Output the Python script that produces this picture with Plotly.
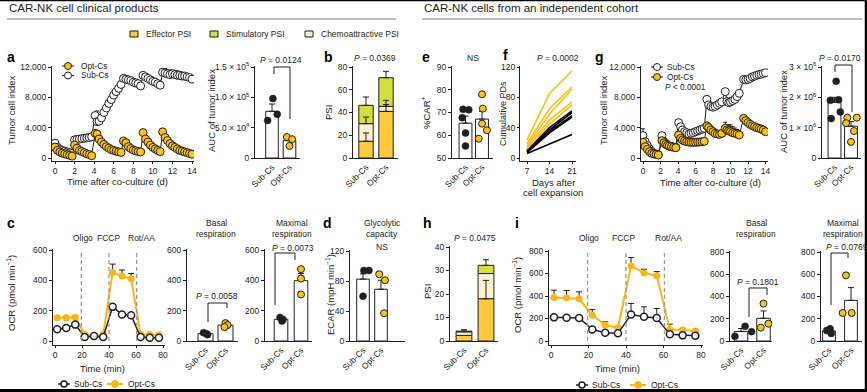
import plotly.graph_objects as go

W, H = 867, 392
FONT = "Liberation Sans, Arial, sans-serif"
INK = "#231f20"
GOLD = "#FFC20E"
GOLD_LINE = "#FDB515"
EFF_C = "#FEC93B"
STIM_C = "#D4DE3E"
CHEMO_C = "#FCF2CF"

groups = ["Sub-Cs", "Opt-Cs"]

# ---------------- panel a ----------------
a_time = [0, 0.25, 0.5, 0.75, 1, 1.25, 1.5, 1.75,
          2, 2.25, 2.5, 2.75, 3, 3.25, 3.5, 3.75,
          4.1, 4.3, 4.5, 4.75, 5, 5.25, 5.5, 5.75, 6, 6.25, 6.5, 6.75,
          7, 7.25, 7.5, 7.75, 8, 8.25, 8.5, 8.75,
          9, 9.25, 9.5, 9.75, 10, 10.25, 10.5, 10.75,
          11, 11.25, 11.5, 11.75, 12, 12.25, 12.5, 12.75, 13, 13.25, 13.5, 13.75, 14]
a_sub = [1950, 1400, 1150, 1000, 900, 800, 700, 620,
         2400, 2450, 2500, 2550, 2600, 2650, 2700, 2800,
         5600, 4800, 4850, 5300, 6000, 6600, 7200, 7700, 8300, 8750, 9200, 9700,
         10500, 10400, 10300, 10200, 10000, 9900, 9800, 9500,
         10900, 10700, 10500, 10300, 10100, 10000, 9800, 9600,
         11300, 11200, 11100, 11000, 11100, 11000, 10900, 10900, 10800, 10800, 10700, 10600, 10400]
a_opt = [1450, 1000, 800, 650, 550, 450, 350, 250,
         1700, 1300, 1000, 850, 700, 550, 450, 300,
         3250, 3150, 2500, 2100, 1800, 1500, 1300, 1100, 1000, 900, 800, 750,
         2250, 2000, 1500, 1250, 1050, 950, 850, 800,
         3350, 2500, 2100, 1700, 1400, 1200, 1000, 850,
         3450, 2700, 2300, 1900, 1600, 1400, 1200, 1000, 900, 800, 700, 600, 500]
a_sub_err = [None] * 16 + [None, 1400] + [None] * 26 + [500, 600, 500, 600, 500, 500, 600, 500, 500, 400, 400, None, None]
a_auc_sub = [98000, 72000, 62000]
a_auc_opt = [34600, 31000, 19800]
a_auc_mean = [77000, 28500]
a_auc_err = [12000, 4500]

# ---------------- panel b ----------------
b_effector = [14.7, 41.0]
b_chemo = [15.5, 4.4]
b_stim = [16.1, 25.2]
b_effector_err = [7.3, 6.0]
b_chemo_err = [5.8, 5.3]
b_stim_err = [7.3, 5.6]

# ---------------- panel e ----------------
e_sub = [71.4, 71.2, 67.7, 61.0, 55.3]
e_opt = [78.0, 71.7, 65.1, 62.2, 58.5]
e_mean = [65.3, 67.1]
e_err = [3.1, 3.4]

# ---------------- panel f ----------------
f_days = [7, 14, 21]
f_opt = [[24, 85, 115], [19, 65, 94], [16, 58, 91], [14, 50, 74], [12, 45, 70]]
f_sub = [[10, 40, 62], [9, 37, 60], [8, 35, 56], [7, 33, 54], [6, 19, 31]]

# ---------------- panel g ----------------
g_time = [0, 0.25, 0.5, 0.75, 1, 1.25, 1.5, 1.75,
          2.17, 2.4, 2.6, 2.8, 3, 3.25, 3.5, 3.75,
          4.07, 4.3, 4.5, 4.75, 5, 5.25, 5.5, 5.75, 6, 6.25, 6.5, 6.75, 7,
          7.3, 7.5, 7.75, 8, 8.25, 8.5, 8.75, 9,
          9.4, 9.6, 9.8, 10, 10.25, 10.5, 10.75, 11,
          11.5, 11.75, 12, 12.25, 12.5, 12.75, 13, 13.25, 13.5, 13.75, 14]
g_sub = [2950, 2150, 1650, 1200, 850, 620, 480, 420,
         2950, 2150, 1930, 1710, 1580, 1500, 1450, 1400,
         4660, 4130, 3690, 3470, 3340, 3160, 3250, 3340, 3470, 3580, 3690, 3800, 3910,
         7740, 7000, 6800, 6700, 6800, 7000, 7200, 7400,
         8750, 7450, 7300, 7400, 7560, 7740, 8090, 8530,
         10370, 10300, 10370, 10500, 10700, 10800, 10900, 11000, 11050, 11150, 11250]
g_opt = [2070, 1490, 1140, 835, 615, 530, 480, 395,
         2290, 2020, 1800, 1670, 1580, 1490, 1420, 1360,
         3030, 2590, 2370, 2240, 2150, 2100, 2070, 2070, 2070, 2100, 2100, 2150, 2200,
         4220, 4000, 3690, 3470, 3250, 3160, 3120, 3250,
         3910, 3690, 3580, 3470, 3340, 3250, 3160, 3030,
         5230, 4920, 4660, 4440, 4260, 4130, 4000, 3910, 3820, 3690, 3470]
g_sub_err = [900] + [None] * 7 + [300] + [None] * 7 + [400] + [None] * 20 + [400] + [None] * 18
g_opt_err = [None] * 29 + [500] + [None] * 7 + [800, 700, 800, 900, 800, 700, 600, None] + [None] * 11
g_auc_sub = [2.53e6, 1.9e6, 1.92e6, 1.52e6, 1.3e6]
g_auc_opt = [1.33e6, 1.33e6, 1.15e6, 0.89e6, 0.53e6]
g_auc_mean = [1.83e6, 1.05e6]
g_auc_err = [0.17e6, 0.15e6]

# ---------------- panels c / i (Seahorse) ----------------
sea_time = [1.6, 8.3, 15.0, 22.0, 28.9, 35.7, 42.7, 49.6, 56.4, 63.4, 70.2, 77.0]
inj_time = [19.5, 40, 60.5]
inj_labels = ["Oligo", "FCCP", "Rot/AA"]
c_sub = [77, 86, 108, 26, 33, 26, 225, 174, 170, 26, 22, 22]
c_opt = [154, 154, 157, 44, 26, 44, 452, 428, 410, 44, 43, 42]
c_opt_err = [8, 8, 10, 8, None, 6, 55, 40, 35, None, None, None]
c_bas_sub = [55, 48, 42]
c_bas_opt = [118, 105, 92]
c_bas_mean = [48, 105]
c_bas_err = [4, 8]
c_max_sub = [155, 142, 132]
c_max_opt = [474, 412, 307]
c_max_mean = [143, 398]
c_max_err = [7, 48]

d_sub = [94, 94, 59.6]
d_opt = [89, 81, 37]
d_mean = [82.5, 69]
d_err = [7, 12]

h_effector = [2.4, 18.0]
h_chemo = [1.5, 10.7]
h_stim = [0.3, 3.5]
h_effector_err = [None, 7.8]
h_stim_err = [0.6, 2.4]

i_sub = [210, 207, 204, 103, 74, 68, 236, 215, 204, 59, 50, 47]
i_opt = [387, 384, 375, 230, 142, 118, 667, 605, 579, 103, 97, 89]
i_sub_err = [8, 8, 8, 8, 6, 6, 98, 89, 85, 20, 10, 10]
i_opt_err = [65, 65, 62, 50, 29, 10, 74, 33, 38, 47, 15, 12]
i_bas_sub = [132, 84, 42]
i_bas_opt = [336, 156, 120]
i_bas_mean = [86, 204]
i_bas_err = [26, 66]
i_max_sub = [110, 95, 68]
i_max_opt = [590, 252, 252]
i_max_mean = [91, 365]
i_max_err = [12, 115]

# ---------------- helpers ----------------
fig = go.Figure()
layout = {}
annotations = []
shapes = []


def xdom(pa, va, pb, vb, lo, hi):
    s = (vb - va) / (pb - pa)
    return dict(domain=[lo / W, hi / W], range=[va + (lo - pa) * s, va + (hi - pa) * s])


def ydom(pa, va, pb, vb, top, bottom):
    s = (vb - va) / (pb - pa)
    return dict(domain=[1 - bottom / H, 1 - top / H], range=[va + (bottom - pa) * s, va + (top - pa) * s])


def base_axis():
    return dict(showline=True, linecolor=INK, linewidth=1, ticks="outside", ticklen=3, tickwidth=1,
                tickcolor=INK, tickfont=dict(size=8.5, family=FONT, color=INK), showgrid=False,
                zeroline=False, fixedrange=True, automargin=False)


def add_axes(n, xs, ys, xkw=None, ykw=None):
    sfx = "" if n == 1 else str(n)
    xa = base_axis(); xa.update(xs); xa["anchor"] = "y" + sfx
    ya = base_axis(); ya.update(ys); ya["anchor"] = "x" + sfx
    if xkw: xa.update(xkw)
    if ykw: ya.update(ykw)
    layout["xaxis" + sfx] = xa
    layout["yaxis" + sfx] = ya
    return "x" + sfx, "y" + sfx


def cat_x():
    return dict(tickvals=[0, 1], ticktext=groups, tickangle=-45, ticks="", ticklen=0)


def T(x, y, s, size=8.5, xa="center", ya="middle", angle=0, bold=False, color=INK):
    if bold:
        s = "<b>" + s + "</b>"
    annotations.append(dict(x=x / W, y=1 - y / H, xref="paper", yref="paper", text=s, showarrow=False,
                            xanchor=xa, yanchor=ya, textangle=angle,
                            font=dict(size=size, family=FONT, color=color)))


def L(x0, y0, x1, y1, color=INK, width=1, dash=None):
    ln = dict(color=color, width=width)
    if dash:
        ln["dash"] = dash
    shapes.append(dict(type="line", xref="paper", yref="paper", x0=x0 / W, y0=1 - y0 / H,
                       x1=x1 / W, y1=1 - y1 / H, line=ln))


def CIRC(x, y, r, fill, line=INK, lw=1):
    shapes.append(dict(type="circle", xref="paper", yref="paper", x0=(x - r) / W, x1=(x + r) / W,
                       y0=1 - (y + r) / H, y1=1 - (y - r) / H, fillcolor=fill, line=dict(color=line, width=lw)))


def RECT(x0, y0, x1, y1, fill, line=INK):
    shapes.append(dict(type="rect", xref="paper", yref="paper", x0=x0 / W, x1=x1 / W,
                       y0=1 - y1 / H, y1=1 - y0 / H, fillcolor=fill, line=dict(color=line, width=1)))


def BRACKET(x1, x2, ytop, yb1, yb2):
    p = "M {:.5f},{:.5f} L {:.5f},{:.5f} L {:.5f},{:.5f} L {:.5f},{:.5f}".format(
        x1 / W, 1 - yb1 / H, x1 / W, 1 - ytop / H, x2 / W, 1 - ytop / H, x2 / W, 1 - yb2 / H)
    shapes.append(dict(type="path", xref="paper", yref="paper", path=p, line=dict(color=INK, width=1)))


def err_dict(arr, w=3):
    return dict(type="data", array=arr, arrayminus=[0] * len(arr), symmetric=False,
                color=INK, thickness=1, width=w)


def bar_panel(xr, yr, means, errs, sub_pts, opt_pts, sub_off, opt_off, width, msize=7):
    fig.add_trace(go.Bar(x=[0, 1], y=means, width=width, marker=dict(color="white", line=dict(color=INK, width=1)),
                         xaxis=xr, yaxis=yr, hoverinfo="skip"))
    fig.add_trace(go.Scatter(x=[0, 1], y=means, mode="markers", marker=dict(size=1, color="rgba(0,0,0,0)"),
                             error_y=err_dict(errs), xaxis=xr, yaxis=yr, hoverinfo="skip"))
    fig.add_trace(go.Scatter(x=[0 + o for o in sub_off], y=sub_pts, mode="markers",
                             marker=dict(size=msize, color=INK, line=dict(color=INK, width=0.5)),
                             xaxis=xr, yaxis=yr, hoverinfo="skip"))
    fig.add_trace(go.Scatter(x=[1 + o for o in opt_off], y=opt_pts, mode="markers",
                             marker=dict(size=msize, color=GOLD, line=dict(color=INK, width=1)),
                             xaxis=xr, yaxis=yr, hoverinfo="skip"))


def stacked_panel(xr, yr, eff, chemo, stim, errs, width):
    base2 = [a + b for a, b in zip(eff, chemo)]
    for y, base, col in [(eff, [0, 0], EFF_C), (chemo, eff, CHEMO_C), (stim, base2, STIM_C)]:
        fig.add_trace(go.Bar(x=[0, 1], y=y, base=base, width=width,
                             marker=dict(color=col, line=dict(color=INK, width=1)),
                             xaxis=xr, yaxis=yr, hoverinfo="skip"))
    tops = [eff, base2, [a + b for a, b in zip(base2, stim)]]
    for top, er in zip(tops, errs):
        if er is None:
            continue
        xs = [i for i in range(2) if er[i] is not None]
        fig.add_trace(go.Scatter(x=xs, y=[top[i] for i in xs], mode="markers",
                                 marker=dict(size=1, color="rgba(0,0,0,0)"),
                                 error_y=err_dict([er[i] for i in xs]), xaxis=xr, yaxis=yr, hoverinfo="skip"))


def tumor_lines(xr, yr, t, sub, opt, sub_err, opt_err):
    fig.add_trace(go.Scatter(x=t, y=sub, mode="lines+markers", line=dict(color=INK, width=1),
                             marker=dict(size=8, color="white", line=dict(color=INK, width=1)),
                             error_y=err_dict(sub_err, 2) if sub_err else None,
                             xaxis=xr, yaxis=yr, hoverinfo="skip"))
    fig.add_trace(go.Scatter(x=t, y=opt, mode="lines+markers", line=dict(color=INK, width=1),
                             marker=dict(size=8, color=GOLD, line=dict(color=INK, width=1)),
                             error_y=err_dict(opt_err, 2) if opt_err else None,
                             xaxis=xr, yaxis=yr, hoverinfo="skip"))


def ocr_lines(xr, yr, sub, opt, sub_err, opt_err):
    fig.add_trace(go.Scatter(x=sea_time, y=opt, mode="lines+markers", line=dict(color=GOLD_LINE, width=2),
                             marker=dict(size=7, color=GOLD_LINE),
                             error_y=err_dict(opt_err) if opt_err else None,
                             xaxis=xr, yaxis=yr, hoverinfo="skip"))
    fig.add_trace(go.Scatter(x=sea_time, y=sub, mode="lines+markers", line=dict(color=INK, width=1.5),
                             marker=dict(size=7, color="white", line=dict(color=INK, width=1.5)),
                             error_y=err_dict(sub_err) if sub_err else None,
                             xaxis=xr, yaxis=yr, hoverinfo="skip"))


# ---------------- panel a ----------------
xr, yr = add_axes(1, xdom(55, 0, 192, 14, 52, 194), ydom(158, 0, 67, 12000, 66, 161),
                  dict(tickvals=list(range(0, 15, 2)), ticklen=2),
                  dict(tickvals=[0, 4000, 8000, 12000], ticktext=["0", "4,000", "8,000", "12,000"]))
tumor_lines(xr, yr, a_time, a_sub, a_opt, a_sub_err, None)

xr, yr = add_axes(2, xdom(272, 0, 289.5, 1, 255, 300), ydom(158, 0, 67, 150000, 66, 158), cat_x(),
                  dict(tickvals=[0, 50000, 100000, 150000],
                       ticktext=["0", "5.0 × 10<sup>4</sup>", "1.0 × 10<sup>5</sup>", "1.5 × 10<sup>5</sup>"]))
bar_panel(xr, yr, a_auc_mean, a_auc_err, a_auc_sub, a_auc_opt, [0.05, 0.3, -0.25], [-0.15, 0.15, 0.0], 0.72)

# ---------------- panel b ----------------
xr, yr = add_axes(3, xdom(366, 0, 386, 1, 353, 398), ydom(158, 0, 67, 80, 66, 158), cat_x(),
                  dict(tickvals=[0, 20, 40, 60, 80]))
stacked_panel(xr, yr, b_effector, b_chemo, b_stim, [b_effector_err, b_chemo_err, b_stim_err], 0.72)

# ---------------- panel e ----------------
xr, yr = add_axes(4, xdom(465.5, 0, 482, 1, 452, 493), ydom(158, 50, 67, 90, 66, 158), cat_x(),
                  dict(tickvals=[50, 60, 70, 80, 90]))
bar_panel(xr, yr, e_mean, e_err, e_sub, e_opt, [-0.15, 0.2, -0.2, 0.0, 0.0], [0.0, 0.05, 0.0, 0.3, -0.2], 0.78)

# ---------------- panel f ----------------
xr, yr = add_axes(5, xdom(527, 7, 572, 21, 520, 576), ydom(158, 0, 67, 120, 66, 161),
                  dict(tickvals=f_days, ticklen=2), dict(tickvals=[0, 40, 80, 120], ticklen=2))
for ys in f_sub:
    fig.add_trace(go.Scatter(x=f_days, y=ys, mode="lines", line=dict(color="black", width=1.6),
                             xaxis=xr, yaxis=yr, hoverinfo="skip"))
for ys in f_opt:
    fig.add_trace(go.Scatter(x=f_days, y=ys, mode="lines", line=dict(color=GOLD, width=1.6),
                             xaxis=xr, yaxis=yr, hoverinfo="skip"))

# ---------------- panel g ----------------
xr, yr = add_axes(6, xdom(643, 0, 765.5, 14, 641, 768), ydom(158, 0, 67, 12000, 66, 161),
                  dict(tickvals=list(range(0, 15, 2)), ticklen=2),
                  dict(tickvals=[0, 4000, 8000, 12000], ticktext=["0", "4,000", "8,000", "12,000"]))
tumor_lines(xr, yr, g_time, g_sub, g_opt, g_sub_err, g_opt_err)

xr, yr = add_axes(7, xdom(834.5, 0, 851, 1, 822, 861), ydom(158, 0, 67, 3e6, 66, 158), cat_x(),
                  dict(tickvals=[0, 1e6, 2e6, 3e6],
                       ticktext=["0", "1 × 10<sup>6</sup>", "2 × 10<sup>6</sup>", "3 × 10<sup>6</sup>"]))
bar_panel(xr, yr, g_auc_mean, g_auc_err, g_auc_sub, g_auc_opt, [0.1, -0.25, 0.25, 0.35, -0.2],
          [-0.22, 0.35, -0.3, 0.18, 0.0], 0.78)

# ---------------- panel c ----------------
xr, yr = add_axes(8, xdom(55, 0, 163, 80, 53, 165), ydom(341, 0, 250, 600, 249, 345),
                  dict(tickvals=[0, 20, 40, 60, 80], ticklen=2), dict(tickvals=[0, 200, 400, 600]))
for tx in inj_time:
    shapes.append(dict(type="line", xref=xr, yref=yr, x0=tx, x1=tx, y0=0, y1=600,
                       line=dict(color="#9a9a9a", width=1.3, dash="4px,3px")))
ocr_lines(xr, yr, c_sub, c_opt, None, c_opt_err)
for tx, lab, dx in zip(inj_time, inj_labels, [2, -1, 5]):
    annotations.append(dict(x=tx, y=1 - 238 / H, xref=xr, yref="paper", text=lab, showarrow=False,
                            xshift=dx, font=dict(size=8.5, family=FONT, color=INK)))

xr, yr = add_axes(9, xdom(205.5, 0, 225.5, 1, 187, 238), ydom(341, 0, 250, 600, 249, 341), cat_x(),
                  dict(tickvals=[0, 200, 400, 600]))
bar_panel(xr, yr, c_bas_mean, c_bas_err, c_bas_sub, c_bas_opt, [-0.1, 0.05, 0.1], [0.0, 0.1, -0.05], 0.75)

xr, yr = add_axes(10, xdom(281, 0, 301, 1, 265, 312), ydom(341, 0, 250, 600, 249, 341), cat_x(),
                  dict(tickvals=[0, 200, 400, 600]))
bar_panel(xr, yr, c_max_mean, c_max_err, c_max_sub, c_max_opt, [-0.05, 0.1, 0.05], [0.0, 0.0, 0.0], 0.68)

# ---------------- panel d ----------------
xr, yr = add_axes(11, xdom(363, 0, 381, 1, 350, 405), ydom(341, 0, 251, 120, 250, 341), cat_x(),
                  dict(tickvals=[0, 40, 80, 120]))
bar_panel(xr, yr, d_mean, d_err, d_sub, d_opt, [0.05, 0.33, 0.0], [-0.1, 0.22, 0.17], 0.7)

# ---------------- panel h ----------------
xr, yr = add_axes(12, xdom(464, 0, 486, 1, 450, 498), ydom(341, 0, 247, 40, 246, 341), cat_x(),
                  dict(tickvals=[0, 10, 20, 30, 40]))
stacked_panel(xr, yr, h_effector, h_chemo, h_stim, [h_effector_err, None, h_stim_err], 0.72)

# ---------------- panel i ----------------
xr, yr = add_axes(13, xdom(551, 0, 701, 80, 549, 703), ydom(341, 0, 251, 800, 250, 345),
                  dict(tickvals=[0, 20, 40, 60, 80], ticklen=2), dict(tickvals=[0, 200, 400, 600, 800]))
for tx in inj_time:
    shapes.append(dict(type="line", xref=xr, yref=yr, x0=tx, x1=tx, y0=0, y1=800,
                       line=dict(color="#9a9a9a", width=1.3, dash="4px,3px")))
ocr_lines(xr, yr, i_sub, i_opt, i_sub_err, i_opt_err)
for tx, lab, dx in zip(inj_time, inj_labels, [1, -3, 4]):
    annotations.append(dict(x=tx, y=1 - 238 / H, xref=xr, yref="paper", text=lab, showarrow=False,
                            xshift=dx, font=dict(size=8.5, family=FONT, color=INK)))

xr, yr = add_axes(14, xdom(741, 0, 763.5, 1, 730, 772), ydom(341, 0, 252, 800, 251, 341), cat_x(),
                  dict(tickvals=[0, 200, 400, 600, 800]))
bar_panel(xr, yr, i_bas_mean, i_bas_err, i_bas_sub, i_bas_opt, [0.18, 0.47, -0.27], [0.0, 0.22, -0.12], 0.6)

xr, yr = add_axes(15, xdom(829, 0, 851, 1, 821, 862), ydom(341, 0, 252, 800, 251, 341), cat_x(),
                  dict(tickvals=[0, 200, 400, 600, 800]))
bar_panel(xr, yr, i_max_mean, i_max_err, i_max_sub, i_max_opt, [0.05, -0.1, 0.1], [-0.23, -0.38, 0.03], 0.58)

# ---------------- text & decorations ----------------
T(7, 8, "CAR-NK cell clinical products", size=11.5, xa="left")
T(422, 8, "CAR-NK cells from an independent cohort", size=11.5, xa="left")
L(7, 19, 396, 19, color="#808080", width=1)
L(422, 19, 862, 19, color="#808080", width=1)

# PSI legend
for x0, lab, col in [(130, "Effector PSI", EFF_C), (210, "Stimulatory PSI", STIM_C), (305, "Chemoattractive PSI", CHEMO_C)]:
    RECT(x0, 31, x0 + 8, 37, col)
    T(x0 + 14, 34, lab, xa="left")

for lab, x, y in [("a", 5, 57), ("b", 322, 57), ("e", 420, 57), ("f", 501, 55), ("g", 593, 57),
                  ("c", 5, 223), ("d", 321, 223), ("h", 421, 223), ("i", 513, 223)]:
    T(x, y, lab, size=14, xa="left", bold=True, color="black")

# y titles
for x, y, s, sz in [(12, 110, "Tumor cell index", 9.5), (211, 111, "AUC of tumor index", 9.5),
                    (329, 113, "PSI", 9.5), (426, 113, "%CAR<sup>+</sup>", 9.5),
                    (503, 114, "Cumulative PDs", 9), (604, 110, "Tumor cell index", 9.5),
                    (783, 112, "AUC of tumor index", 9.5), (11, 293, "OCR (pmol min<sup>−1</sup>)", 9.5),
                    (330, 295, "ECAR (mpH min<sup>−1</sup>)", 9.5), (427, 292, "PSI", 9.5),
                    (517, 295, "OCR (pmol min<sup>−1</sup>)", 9.5)]:
    T(x, y, s, size=sz, angle=-90)

# x titles
T(117, 181, "Time after co-culture (d)", size=9.5)
T(710, 182, "Time after co-culture (d)", size=9.5)
T(553, 182, "Days after", size=9.5)
T(553, 192, "cell expansion", size=9.5)
T(102, 368, "Time (min)", size=9.5)
T(617, 368, "Time (min)", size=9.5)

# panel a legend
L(62, 66, 74, 66); CIRC(68, 66, 3.5, GOLD); T(79, 66, "Opt-Cs", size=8.3, xa="left")
L(62, 75.5, 74, 75.5); CIRC(68, 75.5, 3.5, "white"); T(79, 75.5, "Sub-Cs", size=8.3, xa="left")
# panel g legend
L(651, 67, 663, 67); CIRC(657, 67, 3.5, "white"); T(665, 67, "Sub-Cs", size=8.3, xa="left")
L(651, 77, 663, 77); CIRC(657, 77, 3.5, GOLD); T(665, 77, "Opt-Cs", size=8.3, xa="left")
T(663, 86.5, "<i>P</i> < 0.0001", size=8.3, xa="left")
# c / i legends
for xs, xo, y in [(64, 115, 384), (582, 638, 385)]:
    L(xs - 6, y, xs + 6, y, width=1.5); CIRC(xs, y, 3, "white", lw=1.5); T(xs + 8, y, "Sub-Cs", xa="left")
    L(xo - 8, y, xo + 8, y, color=GOLD_LINE, width=2); CIRC(xo, y, 3.5, GOLD_LINE, line=GOLD_LINE)
    T(xo + 11, y, "Opt-Cs", xa="left")

# P values and brackets
T(281, 60, "<i>P</i> = 0.0124"); BRACKET(274, 290, 67, 74, 119)
T(375, 58, "<i>P</i> = 0.0369")
T(473, 58, "NS")
T(558, 58, "<i>P</i> = 0.0002")
T(840, 58, "<i>P</i> = 0.0170"); BRACKET(835, 852, 65, 72, 112)
T(216, 223, "Basal"); T(216, 234, "respiration")
T(217, 296, "<i>P</i> = 0.0058"); BRACKET(208, 227, 303, 322, 308)
T(292, 223, "Maximal"); T(292, 234, "respiration")
T(293, 248, "<i>P</i> = 0.0073"); BRACKET(275, 295, 253, 305, 260)
T(382, 223, "Glycolytic"); T(382, 234, "capacity"); T(382, 247, "NS")
T(475, 238, "<i>P</i> = 0.0475")
T(756, 223, "Basal"); T(756, 234, "respiration")
T(758, 282, "<i>P</i> = 0.1801"); BRACKET(749, 767, 288, 317, 295)
T(843, 223, "Maximal"); T(843, 234, "respiration")
T(847, 247, "<i>P</i> = 0.0769"); BRACKET(831, 848, 253, 305, 258)

# outer frame
L(0, 0.5, W, 0.5, color="black", width=1.5)
L(W - 1, 0, W - 1, H, color="black", width=2.5)
L(0, H - 1.5, W, H - 1.5, color="black", width=3)

fig.update_layout(**layout)
fig.update_layout(width=W, height=H, margin=dict(l=0, r=0, t=0, b=0, autoexpand=False), paper_bgcolor="white",
                  plot_bgcolor="rgba(0,0,0,0)", showlegend=False, barmode="overlay",
                  annotations=annotations, shapes=shapes, font=dict(family=FONT, color=INK))
fig.write_html("out.html", config={"displayModeBar": False, "staticPlot": True},
               post_script="document.body.style.margin='0px';document.body.style.overflow='hidden';")
